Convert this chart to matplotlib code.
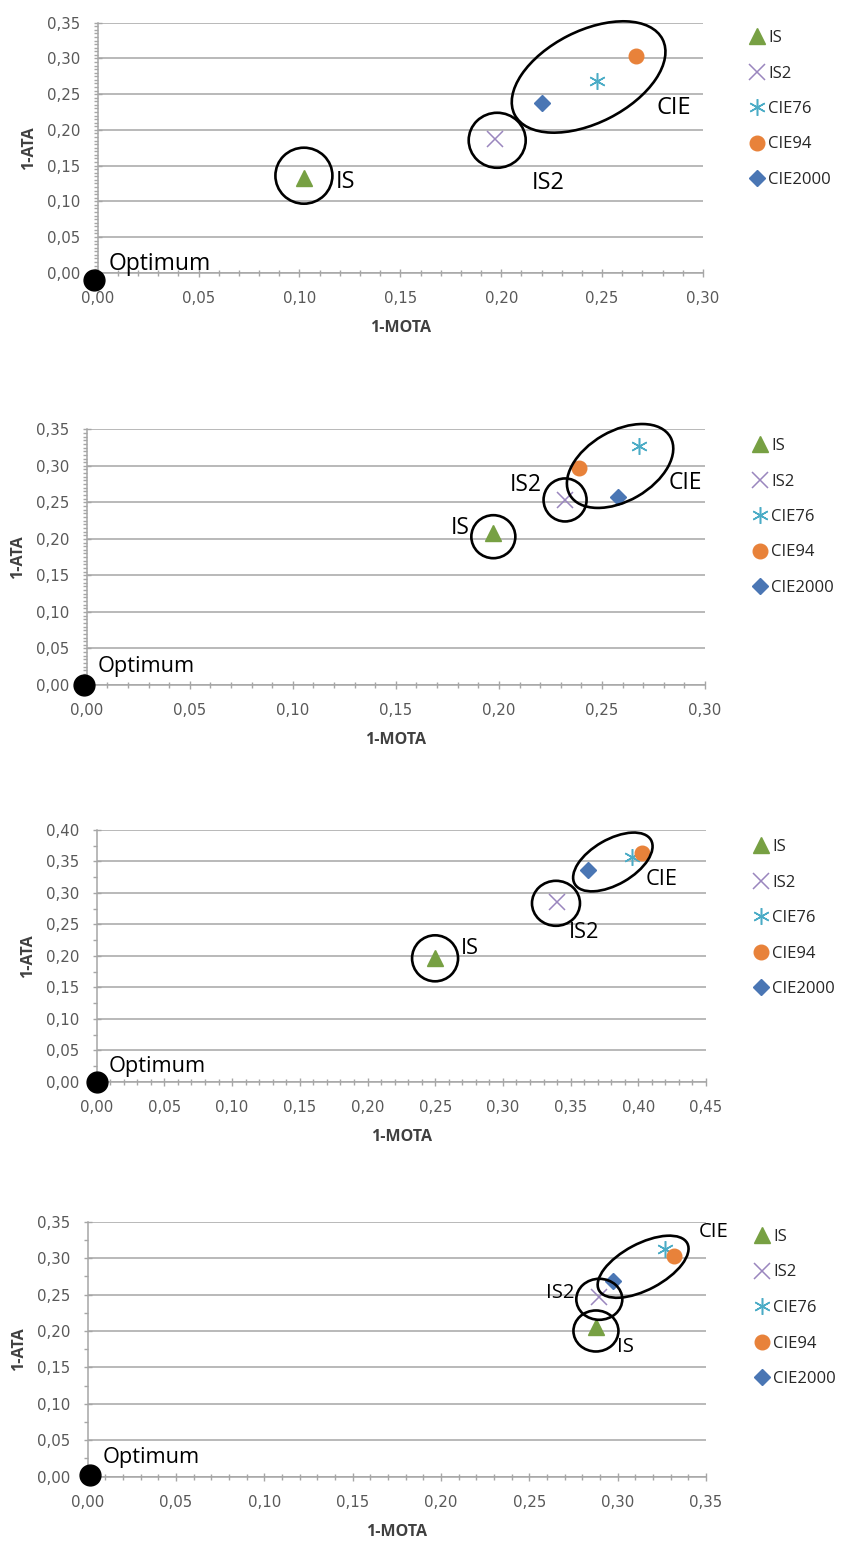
import matplotlib
matplotlib.use("Agg")
import matplotlib.pyplot as plt
from matplotlib.patches import Ellipse
from matplotlib import transforms
from matplotlib.ticker import MultipleLocator, FuncFormatter

# ---- data -------------------------------------------------------------
methods = ["IS", "IS2", "CIE76", "CIE94", "CIE2000"]

# 1-MOTA (x) and 1-ATA (y) for each method, one pair of lists per experiment
exp1_mota = [0.102, 0.197, 0.2475, 0.2666, 0.220]
exp1_ata = [0.133, 0.187, 0.268, 0.304, 0.237]
exp2_mota = [0.197, 0.232, 0.268, 0.239, 0.258]
exp2_ata = [0.208, 0.253, 0.327, 0.2975, 0.257]
exp3_mota = [0.250, 0.340, 0.3956, 0.4025, 0.3626]
exp3_ata = [0.196, 0.286, 0.3576, 0.364, 0.3365]
exp4_mota = [0.2876, 0.2894, 0.3268, 0.3319, 0.2975]
exp4_ata = [0.206, 0.2462, 0.312, 0.3033, 0.269]

# optimum reference point as placed on each chart
optimum_x = [-0.002, -0.0013, 0.0, 0.0013]
optimum_y = [-0.0102, 0.0, 0.0, 0.0023]

x_max = [0.30, 0.30, 0.45, 0.35]
y_max = [0.35, 0.35, 0.40, 0.35]
y_minor = [0.005, 0.005, 0.025, 0.025]

# ---- style ------------------------------------------------------------
colors = ["#77A043", "#9A86BE", "#4BACC6", "#E8823A", "#4A76B4"]
styles = [
    dict(marker="^", markersize=11, linestyle="none"),
    dict(marker="x", markersize=11, linestyle="none", markeredgewidth=1.1),
    dict(marker=(6, 2, 0), markersize=12, linestyle="none", markeredgewidth=1.1),
    dict(marker="o", markersize=10.5, linestyle="none"),
    dict(marker="D", markersize=8, linestyle="none"),
]

W, H = 841, 1544
fig = plt.figure(figsize=(W / 100, H / 100), dpi=100)

# axes boxes in pixels: left, right, top, bottom
boxes = [
    (97.7, 703.0, 22.7, 272.7),
    (86.7, 705.0, 429.3, 685.0),
    (96.7, 706.0, 830.0, 1081.7),
    (87.7, 706.0, 1221.7, 1476.7),
]
legend_anchor = [(750, 30), (753, 438), (754, 839), (755, 1229)]

# group annotations: (x, y, width_px, height_px, angle)
groups = [
    [(0.1022, 0.1358, 57, 56, 0), (0.198, 0.1854, 57, 55, 0), (0.2433, 0.274, 166, 92, 27)],
    [(0.1973, 0.203, 44, 43, 0), (0.2321, 0.2533, 43, 43, 0), (0.2588, 0.2998, 116, 70, 30)],
    [(0.2499, 0.1961, 46, 46, 0), (0.3392, 0.2835, 48, 45, 0), (0.3812, 0.3492, 88, 45, 30)],
    [(0.2877, 0.200, 45, 41, 0), (0.2896, 0.2435, 46, 41, 0), (0.3144, 0.2882, 100, 46, 28)],
]
group_labels = [
    [("IS", 0.1226, 0.1274), ("IS2", 0.2235, 0.1252), ("CIE", 0.2856, 0.2302)],
    [("IS", 0.181, 0.2145), ("IS2", 0.2128, 0.2738), ("CIE", 0.2904, 0.2761)],
    [("IS", 0.2757, 0.212), ("IS2", 0.360, 0.2368), ("CIE", 0.4169, 0.3206)],
    [("IS", 0.3043, 0.1784), ("IS2", 0.2674, 0.2517), ("CIE", 0.3541, 0.3354)],
]
label_size = [17, 16.5, 15.7, 14.6]
optimum_label = [(0.0307, 0.0118), (0.0289, 0.025), (0.0447, 0.0238), (0.0358, 0.0266)]
optimum_size = [16.5, 15.7, 15.7, 15.7]

data = [(exp1_mota, exp1_ata), (exp2_mota, exp2_ata),
        (exp3_mota, exp3_ata), (exp4_mota, exp4_ata)]

grid_col = "#A6A6A6"
tick_col = "#595959"
comma = FuncFormatter(lambda v, p: f"{v:.2f}".replace(".", ","))

for i, (L, R, T, B) in enumerate(boxes):
    ax = fig.add_axes([L / W, 1 - B / H, (R - L) / W, (B - T) / H])
    ax.set_xlim(0, x_max[i])
    ax.set_ylim(0, y_max[i])

    for s in ("top", "right"):
        ax.spines[s].set_visible(False)
    for s in ("left", "bottom"):
        ax.spines[s].set_color(grid_col)
        ax.spines[s].set_linewidth(1.1)

    ax.xaxis.set_major_locator(MultipleLocator(0.05))
    ax.xaxis.set_minor_locator(MultipleLocator(0.01))
    ax.yaxis.set_major_locator(MultipleLocator(0.05))
    ax.yaxis.set_minor_locator(MultipleLocator(y_minor[i]))
    ax.xaxis.set_major_formatter(comma)
    ax.yaxis.set_major_formatter(comma)
    ax.grid(axis="y", which="major", color=grid_col, linewidth=1.1)
    ax.set_axisbelow(True)

    ax.tick_params(axis="both", which="major", direction="inout", length=6,
                   width=1, color=grid_col, labelcolor=tick_col, labelsize=10.8,
                   labelfontfamily="DejaVu Sans")
    ax.tick_params(axis="x", which="major", pad=10)
    ax.tick_params(axis="y", which="major", pad=9.5)
    ax.tick_params(axis="x", which="minor", direction="inout", length=5,
                   width=1, color=grid_col)
    ax.tick_params(axis="y", which="minor", direction="out", length=3,
                   width=1, color=grid_col)

    ax.set_xlabel("1-MOTA", fontsize=11.5, fontweight="bold", color="#404040",
                  family="Open Sans", va="center")
    ax.set_ylabel("1-ATA", fontsize=11.5, fontweight="bold", color="#404040",
                  family="Open Sans", va="center")
    ax.xaxis.set_label_coords(0.5, -55 / (B - T))
    ax.yaxis.set_label_coords(-69 / (R - L), 0.5)

    xs, ys = data[i]
    for k, name in enumerate(methods):
        ax.plot([xs[k]], [ys[k]], color=colors[k], markeredgecolor=colors[k],
                label=name, clip_on=False, zorder=3, **styles[k])

    ax.plot([optimum_x[i]], [optimum_y[i]], marker="o", markersize=15,
            color="black", linestyle="none", clip_on=False, zorder=4)
    ox, oy = optimum_label[i]
    ax.text(ox, oy, "Optimum", ha="center", va="center", fontsize=optimum_size[i],
            family="Open Sans", color="black", clip_on=False)

    for (cx, cy, w, h, ang) in groups[i]:
        tr = fig.dpi_scale_trans + transforms.ScaledTranslation(cx, cy, ax.transData)
        ax.add_patch(Ellipse((0, 0), w / 100, h / 100, angle=ang, transform=tr,
                             fill=False, edgecolor="black", linewidth=1.9,
                             clip_on=False, zorder=5))
    for (txt, tx, ty) in group_labels[i]:
        ax.text(tx, ty, txt, ha="center", va="center", fontsize=label_size[i],
                family="Open Sans", color="black", clip_on=False)

    lx, ly = legend_anchor[i]
    ax.legend(loc="upper left", bbox_to_anchor=(lx / W, 1 - ly / H),
              bbox_transform=fig.transFigure, frameon=False,
              prop=dict(family="Open Sans", size=12), labelcolor="#262626",
              handlelength=0.8, handletextpad=0.3, labelspacing=1.17,
              borderaxespad=0, borderpad=0)

fig.savefig("out.png", dpi=100)
